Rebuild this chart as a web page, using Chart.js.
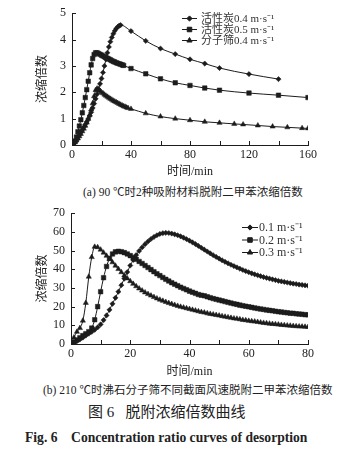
<!DOCTYPE html>
<html>
<head>
<meta charset="utf-8">
<script src="https://cdn.jsdelivr.net/npm/chart.js@4.4.1/dist/chart.umd.min.js"></script>
<style>
  body { margin: 0; background: #fff; width: 357px; height: 451px; position: relative; overflow: hidden;
         font-family: "Liberation Serif", "Noto Sans CJK SC", serif; color: #222; }
  canvas { position: absolute; left: 0; }
  #chartA { top: 0; }
  #chartB { top: 200px; }
  .cap { position: absolute; white-space: pre; line-height: 1; }
</style>
</head>
<body>
<canvas id="chartA" width="357" height="180"></canvas>
<canvas id="chartB" width="357" height="180"></canvas>
<div class="cap" style="left:83px;top:187px;font-size:11.5px">(a) 90 ℃时2种吸附材料脱附二甲苯浓缩倍数</div>
<div class="cap" style="left:43px;top:385px;font-size:11.5px">(b) 210 ℃时沸石分子筛不同截面风速脱附二甲苯浓缩倍数</div>
<div class="cap" style="left:88px;top:405px;font-size:15px">图 6   脱附浓缩倍数曲线</div>
<div class="cap" style="left:25px;top:431px;font-size:13.6px;font-weight:bold">Fig. 6    Concentration ratio curves of desorption</div>
<script>
// (a) 90 ℃, three adsorbents
const labelsA = ['活性炭0.4 m·s⁻¹', '活性炭0.5 m·s⁻¹', '分子筛0.4 m·s⁻¹'];
const timeA1 = [0,1,2,3,4,5,6,7,8,9,10,11,12,13,14,15,16,17,18,19,20,21,22,23,24,25,26,27,28,29,30,31,32,33,40,50,60,70,80,90,100,120,140];
const ratioA1 = [0,0.04,0.1,0.18,0.28,0.38,0.48,0.58,0.68,0.78,0.88,0.99,1.1,1.24,1.4,1.57,1.75,1.93,2.12,2.32,2.52,2.75,3.0,3.25,3.5,3.72,3.92,4.08,4.22,4.33,4.42,4.48,4.53,4.55,4.32,3.95,3.66,3.45,3.25,3.09,2.92,2.69,2.5];
const timeA2 = [0,1,2,3,4,5,6,7,8,9,10,11,12,13,14,15,16,17,18,19,20,21,22,23,24,25,26,27,28,29,30,31,32,33,34,35,40,50,60,70,80,90,100,120,140,160];
const ratioA2 = [0,0.05,0.15,0.3,0.5,0.72,0.96,1.22,1.5,1.8,2.1,2.42,2.74,3.04,3.28,3.43,3.5,3.5,3.47,3.44,3.41,3.38,3.35,3.32,3.29,3.26,3.23,3.2,3.17,3.15,3.12,3.1,3.08,3.06,3.04,3.02,2.9,2.7,2.51,2.36,2.26,2.16,2.08,1.97,1.89,1.8];
const timeA3 = [0,1,2,3,4,5,6,7,8,9,10,11,12,13,14,15,16,17,18,19,20,21,22,23,24,25,26,27,28,29,30,31,32,33,34,35,36,37,38,40,50,60,70,80,90,100,110,116,126,136,146,156,160];
const ratioA3 = [0,0.04,0.1,0.17,0.25,0.33,0.42,0.52,0.62,0.73,0.85,0.99,1.15,1.35,1.58,1.85,2.08,2.14,2.1,2.05,2.0,1.96,1.91,1.87,1.83,1.79,1.75,1.72,1.68,1.65,1.62,1.59,1.56,1.53,1.5,1.47,1.45,1.42,1.4,1.37,1.2,1.08,1.0,0.94,0.88,0.84,0.8,0.78,0.74,0.7,0.67,0.64,0.63];

// (b) 210 ℃, zeolite at three face velocities
const labelsB = ['0.1 m·s⁻¹', '0.2 m·s⁻¹', '0.3 m·s⁻¹'];
const timeB = [0,1,2,3,4,5,6,7,8,9,10,11,12,13,14,15,16,17,18,19,20,21,22,23,24,25,26,27,28,29,30,31,32,33,34,35,36,37,38,39,40,41,42,43,44,45,46,47,48,49,50,51,52,53,54,55,56,57,58,59,60,61,62,63,64,65,66,67,68,69,70,71,72,73,74,75,76,77,78,79,80];
const ratioB1 = [0,0.7,1.5,2.4,3.4,4.5,5.5,6.5,7.6,8.9,10.5,12.8,15.3,18.3,21.5,24.7,28,31.5,35,38.5,42,45,47.6,49.8,51.7,53.4,54.9,56.2,57.3,58.2,58.9,59.3,59.5,59.4,59.1,58.7,58.2,57.6,56.9,56.1,55.3,54.4,53.5,52.5,51.5,50.5,49.5,48.5,47.5,46.6,45.7,44.8,44,43.2,42.4,41.7,41,40.3,39.6,39,38.4,37.8,37.3,36.8,36.3,35.8,35.4,35,34.6,34.2,33.8,33.5,33.2,32.9,32.6,32.3,32.1,31.8,31.6,31.4,31.2];
const ratioB2 = [0,1,2.2,3.4,4.5,5.5,6.6,8.5,13,20,28,35.5,41.5,45.8,48.2,49.3,49.6,49.4,48.9,48.2,47.3,46.3,45.3,44.2,43.1,42,40.9,39.8,38.7,37.6,36.6,35.6,34.6,33.7,32.8,32,31.2,30.4,29.7,29,28.3,27.7,27.1,26.5,26.1,25.8,25.3,24.8,24.3,23.9,23.5,23.1,22.7,22.3,21.9,21.5,21.2,20.8,20.5,20.2,19.9,19.6,19.3,19,18.7,18.5,18.2,18,17.8,17.5,17.3,17.1,16.9,16.7,16.5,16.4,16.2,16,15.9,15.7,15.6];
const ratioB3 = [0,3.5,6.5,8.5,12.5,22,36,46.5,52,51.8,50.5,48.9,47.2,45.5,43.7,41.9,40.1,38.4,36.7,35.1,33.6,32.2,30.9,29.7,28.6,27.6,26.7,25.9,25.1,24.4,23.7,23.1,22.5,21.9,21.4,20.9,20.4,19.9,19.5,19.1,18.7,18.3,17.9,17.5,17.1,16.8,16.4,16.1,15.8,15.5,15.2,14.9,14.6,14.3,14,13.7,13.5,13.2,12.9,12.7,12.4,12.2,12,11.8,11.5,11.3,11.1,10.9,10.7,10.6,10.4,10.2,10.1,9.9,9.8,9.6,9.5,9.4,9.3,9.2,9.1];

const ink = '#1c1c1c';
const tickFont = { family: '"Liberation Serif", "Noto Sans CJK SC", serif', size: 12 };
const markers = ['rectRot', 'rect', 'triangle'];
const markerSize = [2.6, 3.2, 3];

function pts(ts, vs) {
  return ts.map((t, i) => ({ x: t, y: vs[i] }));
}

function makeSet(label, data, k) {
  return {
    label: label,
    data: data,
    borderColor: ink,
    backgroundColor: ink,
    borderWidth: 1,
    pointStyle: markers[k],
    pointRadius: markerSize[k],
    pointBorderWidth: 0.5,
    pointBackgroundColor: ink,
    pointBorderColor: ink,
    cubicInterpolationMode: 'monotone'
  };
}

// tick marks drawn inside the plot, like the original
const innerTicks = {
  id: 'innerTicks',
  afterDraw(chart) {
    const ctx = chart.ctx, area = chart.chartArea;
    const xs = chart.scales.x, ys = chart.scales.y;
    ctx.save();
    ctx.strokeStyle = ink;
    ctx.lineWidth = 1;
    ctx.beginPath();
    xs.ticks.forEach(t => {
      const px = Math.round(xs.getPixelForValue(t.value)) + 0.5;
      ctx.moveTo(px, area.bottom);
      ctx.lineTo(px, area.bottom - 4);
    });
    ys.ticks.forEach(t => {
      const py = Math.round(ys.getPixelForValue(t.value)) + 0.5;
      ctx.moveTo(area.left, py);
      ctx.lineTo(area.left + 4, py);
    });
    ctx.stroke();
    ctx.restore();
  }
};

// legend: short line with the marker in the middle, then the label
const lineLegend = {
  id: 'lineLegend',
  afterDraw(chart, args, opts) {
    const ctx = chart.ctx;
    ctx.save();
    chart.data.datasets.forEach((ds, i) => {
      const y = opts.y + i * opts.gap;
      ctx.strokeStyle = ink;
      ctx.lineWidth = 1;
      ctx.beginPath();
      ctx.moveTo(opts.x, y + 0.5);
      ctx.lineTo(opts.x + opts.len, y + 0.5);
      ctx.stroke();
      ctx.fillStyle = ink;
      Chart.helpers.drawPoint(ctx, { pointStyle: ds.pointStyle, radius: ds.pointRadius, rotation: 0, borderWidth: 0.5 },
        opts.x + opts.len / 2, y + 0.5);
      ctx.fillStyle = '#333';
      ctx.font = opts.font + 'px "Liberation Serif", "Noto Sans CJK SC", serif';
      ctx.textBaseline = 'alphabetic';
      ctx.fillText(ds.label, opts.x + opts.len + opts.textGap, y + Math.round(opts.font * 0.36));
    });
    ctx.restore();
  }
};

function makeChart(id, sets, xMax, xStep, xLabelEvery, yMax, yStep, area, legend) {
  return new Chart(document.getElementById(id), {
    type: 'line',
    data: { datasets: sets },
    options: {
      responsive: false,
      animation: false,
      devicePixelRatio: 1,
      layout: { padding: { left: 0, top: area.top, right: 357 - area.right, bottom: 0 } },
      scales: {
        x: {
          type: 'linear', min: 0, max: xMax,
          grid: { display: false, drawTicks: false },
          border: { display: true, color: ink, width: 1 },
          ticks: {
            stepSize: xStep, autoSkip: false, maxRotation: 0, padding: 3,
            color: '#222', font: tickFont,
            callback: v => (v % xLabelEvery === 0 ? v : '')
          },
          title: { display: true, text: '时间/min', color: '#222', font: tickFont, padding: { top: 0, bottom: 1 } },
          afterFit: s => { s.height = 180 - area.bottom; }
        },
        y: {
          min: 0, max: yMax,
          grid: { display: false, drawTicks: false },
          border: { display: true, color: ink, width: 1 },
          ticks: { stepSize: yStep, padding: 6, color: '#222', font: tickFont },
          title: { display: true, text: '浓缩倍数', color: '#222', font: tickFont, padding: { top: 36, bottom: 0 } },
          afterFit: s => { s.width = area.left; }
        }
      },
      plugins: {
        legend: { display: false },
        tooltip: { enabled: false },
        lineLegend: legend
      }
    },
    plugins: [innerTicks, lineLegend]
  });
}

makeChart('chartA', [
  makeSet(labelsA[0], pts(timeA1, ratioA1), 0),
  makeSet(labelsA[1], pts(timeA2, ratioA2), 1),
  makeSet(labelsA[2], pts(timeA3, ratioA3), 2)
], 160, 20, 40, 5, 1, { left: 72, right: 308, top: 13, bottom: 145 },
  { x: 182, y: 18, gap: 11, len: 15, textGap: 4, font: 11 });

makeChart('chartB', [
  makeSet(labelsB[0], pts(timeB, ratioB1), 0),
  makeSet(labelsB[1], pts(timeB, ratioB2), 1),
  makeSet(labelsB[2], pts(timeB, ratioB3), 2)
], 80, 10, 20, 70, 10, { left: 71, right: 308, top: 11, bottom: 144 },
  { x: 242, y: 27, gap: 12.5, len: 16, textGap: 1, font: 12 });
</script>
</body>
</html>
